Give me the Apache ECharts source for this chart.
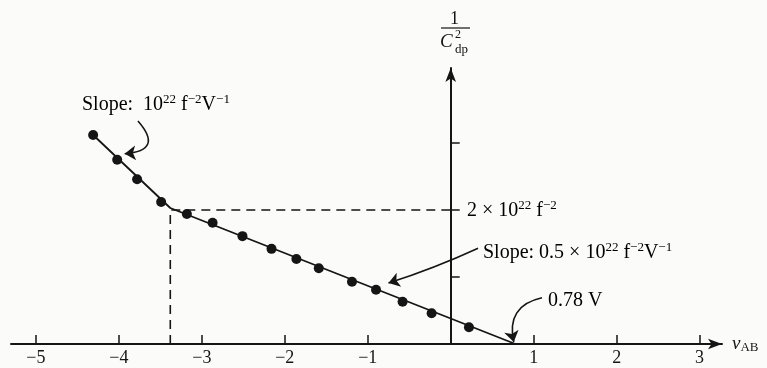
<!DOCTYPE html>
<html>
<head>
<meta charset="utf-8">
<script src="https://cdn.jsdelivr.net/npm/echarts@6/dist/echarts.min.js"></script>
<style>
html,body{margin:0;padding:0;background:#fbfbfa;}
#chart{width:767px;height:368px;}
</style>
</head>
<body>
<div id="chart"></div>
<script>
// measured points: v_AB (V) and 1/C^2 (x 1e22 f^-2)
const vAB   = [-4.31, -4.02, -3.78, -3.49, -3.18, -2.87, -2.51, -2.16, -1.86, -1.59, -1.19, -0.90, -0.58, -0.23, 0.22];
const invC2 = [ 3.12,  2.75,  2.46,  2.12,  1.94,  1.81,  1.61,  1.42,  1.27,  1.13,  0.93,  0.81,  0.63,  0.46, 0.25];
// straight line fit: knee and 0.78 V intercept
const fitV = [-4.31, -3.38, 0.78];
const fitY = [ 3.12,  2.03, 0];
// dashed guides to the knee
const guideV = [-3.38, -3.38, 0];
const guideY = [0, 2, 2];
const xTicks = [-5, -4, -3, -2, -1, 1, 2, 3];
const yTicks = [1, 2, 3];
// annotation arrows: from (v, y) to (v, y)
const arrowFrom = [[-3.77, 3.33], [0.33, 1.43], [1.10, 0.69]];
const arrowTo   = [[-3.93, 2.84], [-0.75, 0.91], [0.76, 0.03]];

const serif = "'Liberation Serif', 'DejaVu Serif', serif";
const ink = '#151515';

let myChart = echarts.init(document.getElementById('chart'));

const zip = (a, b) => a.map((v, i) => [v, b[i]]);
const bends = [1.0, 0.03, -0.5];

const txt = {fontFamily: serif, fontSize: 20, color: ink, lineHeight: 24};
const sup = {fontFamily: serif, fontSize: 13, color: ink, verticalAlign: 'top', lineHeight: 19};

let option = {
	animation: false,
	backgroundColor: '#fbfbfa',
	grid: {left: 11, right: 45, top: 68, bottom: 24, containLabel: false, outerBoundsMode: 'none'},
	xAxis: {
		type: 'value', min: -5.3, max: 3.27,
		axisLine: {lineStyle: {color: ink, width: 2}, symbol: ['none', 'arrow'], symbolSize: [8, 14]},
		axisTick: {customValues: xTicks, inside: true, length: 9, lineStyle: {color: ink, width: 1.5}},
		axisLabel: {
			customValues: xTicks, margin: 5, color: ink, fontFamily: serif, fontSize: 18,
			formatter: v => v < 0 ? '\u2212' + Math.abs(v) : String(v)
		},
		splitLine: {show: false},
		name: '{v|v}{s|AB}', nameLocation: 'end', nameGap: 10,
		nameTextStyle: {rich: {
			v: {fontFamily: serif, fontSize: 19, fontStyle: 'italic', color: ink, lineHeight: 20, verticalAlign: 'top'},
			s: {fontFamily: serif, fontSize: 13, color: ink, lineHeight: 20, verticalAlign: 'bottom'}
		}}
	},
	yAxis: {
		type: 'value', min: 0, max: 4.12,
		axisLine: {onZero: true, lineStyle: {color: ink, width: 2}, symbol: ['none', 'arrow'], symbolSize: [8, 14]},
		axisTick: {customValues: yTicks, inside: true, length: 9, lineStyle: {color: ink, width: 1.5}},
		axisLabel: {show: false},
		splitLine: {show: false}
	},
	series: [
		{
			type: 'line', data: zip(guideV, guideY), symbol: 'none', silent: true,
			lineStyle: {color: ink, width: 1.6, type: [9, 6]}
		},
		{
			type: 'line', data: zip(fitV, fitY), symbol: 'none', silent: true,
			lineStyle: {color: ink, width: 1.8}
		},
		{
			type: 'scatter', data: zip(vAB, invC2), symbolSize: 10, silent: true,
			itemStyle: {color: ink, opacity: 1}
		},
		{
			// curved pointer arrows
			type: 'lines', coordinateSystem: 'cartesian2d', silent: true,
			symbol: ['none', 'arrow'], symbolSize: 11,
			lineStyle: {color: ink, width: 1.6, opacity: 1},
			data: arrowFrom.map((p, i) => ({
				coords: [p, arrowTo[i]],
				lineStyle: {curveness: bends[i]}
			}))
		}
	],
	graphic: [
		{type: 'text', left: 82, top: 93, style: {
			text: '{t|Slope:  10}{s|22}{t| f}{s|\u22122}{t|V}{s|\u22121}', rich: {t: txt, s: sup}
		}},
		{type: 'text', left: 467, top: 199, style: {
			text: '{t|2 \u00d7 10}{s|22}{t| f}{s|\u22122}', rich: {t: txt, s: sup}
		}},
		{type: 'text', left: 483, top: 241, style: {
			text: '{t|Slope: 0.5 \u00d7 10}{s|22}{t| f}{s|\u22122}{t|V}{s|\u22121}', rich: {t: txt, s: sup}
		}},
		{type: 'text', left: 548, top: 291, style: {text: '{t|0.78 V}', rich: {t: txt}}},
		// 1 / C^2_dp
		{type: 'text', left: 450, top: 10, style: {text: '1', font: '18px ' + serif, fill: ink}},
		{type: 'line', shape: {x1: 441, y1: 28, x2: 470, y2: 28}, style: {stroke: ink, lineWidth: 1.2}},
		{type: 'text', left: 440, top: 32, style: {text: 'C', font: 'italic 19px ' + serif, fill: ink}},
		{type: 'text', left: 455, top: 29, style: {text: '2', font: '12px ' + serif, fill: ink}},
		{type: 'text', left: 455, top: 43, style: {text: 'dp', font: '13px ' + serif, fill: ink}}
	]
}
myChart.setOption(option)
</script>
</body>
</html>
